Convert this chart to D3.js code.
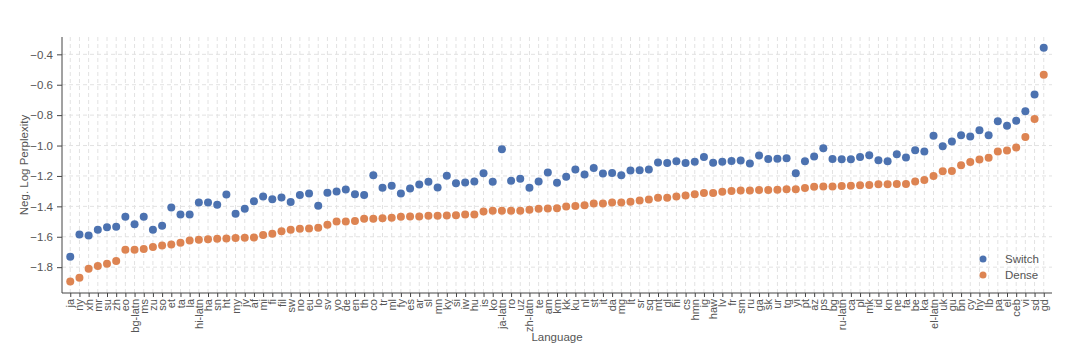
<!DOCTYPE html>
<html lang="en">
<head>
<meta charset="UTF-8">
<script src="https://d3js.org/d3.v7.min.js"></script>
<title>Switch vs Dense</title>
<style>
  body { margin: 0; background: white; }
  svg text { font-family: "Liberation Sans", Arial, Helvetica, sans-serif; fill: #555; }
  .grid line { stroke: #e2e2e2; stroke-dasharray: 4,3; stroke-width: 1; }
  .axis path, .axis line { stroke: #444; }
</style>
</head>
<body>
<svg id="chart"></svg>
<script>
const languages = ["ja","ny","xh","mr","su","zh","eo","bg-latn","ms","zu","so","et","ta","la","hi-latn","ha","sn","ht","my","jv","af","mi","fi","fil","sw","no","eu","lo","sv","yo","de","en","th","co","tr","ml","fy","es","ar","sl","mn","ky","si","iw","hu","is","ko","ja-latn","ro","uz","zh-latn","te","am","km","kk","ku","nl","st","it","da","mg","lt","sr","sq","mt","gl","hi","cs","hmn","ig","haw","lv","fr","sm","ru","ga","sk","ur","tg","yi","pt","az","ps","bg","ru-latn","ca","pl","mk","id","kn","ne","fa","be","ka","el-latn","uk","gu","bn","cy","hy","lb","pa","el","ceb","vi","sd","gd"];

const switchVals = [-1.732,-1.585,-1.591,-1.554,-1.537,-1.535,-1.469,-1.517,-1.469,-1.554,-1.528,-1.407,-1.453,-1.453,-1.375,-1.375,-1.390,-1.322,-1.449,-1.416,-1.366,
  -1.335,-1.353,-1.342,-1.372,-1.326,-1.315,-1.396,-1.311,-1.302,-1.289,-1.320,-1.326,-1.195,-1.278,-1.265,-1.315,-1.283,-1.256,-1.239,-1.276,-1.199,-1.248,
  -1.243,-1.237,-1.182,-1.239,-1.024,-1.232,-1.219,-1.278,-1.237,-1.177,-1.245,-1.206,-1.158,-1.191,-1.147,-1.184,-1.180,-1.195,-1.164,-1.162,-1.158,
  -1.111,-1.115,-1.104,-1.115,-1.107,-1.076,-1.113,-1.107,-1.102,-1.098,-1.118,-1.065,-1.089,-1.087,-1.083,-1.183,-1.104,-1.072,-1.017,-1.089,-1.090,
  -1.090,-1.075,-1.064,-1.097,-1.103,-1.057,-1.079,-1.031,-1.040,-0.936,-1.004,-0.974,-0.932,-0.941,-0.899,-0.932,-0.840,-0.870,-0.837,-0.774,-0.664,-0.356];

const denseVals = [-1.894,-1.870,-1.811,-1.793,-1.778,-1.760,-1.686,-1.686,-1.681,-1.668,-1.657,-1.651,-1.640,-1.624,-1.620,-1.616,-1.613,-1.611,-1.609,-1.607,-1.605,
  -1.589,-1.580,-1.563,-1.554,-1.548,-1.545,-1.541,-1.521,-1.499,-1.499,-1.497,-1.482,-1.482,-1.478,-1.475,-1.469,-1.467,-1.467,-1.462,-1.462,-1.460,-1.458,
  -1.453,-1.453,-1.434,-1.429,-1.429,-1.429,-1.429,-1.423,-1.416,-1.414,-1.412,-1.401,-1.397,-1.392,-1.381,-1.381,-1.375,-1.375,-1.370,-1.361,-1.355,
  -1.343,-1.343,-1.335,-1.328,-1.321,-1.313,-1.313,-1.304,-1.299,-1.295,-1.295,-1.293,-1.293,-1.291,-1.288,-1.288,-1.280,-1.271,-1.269,-1.269,-1.266,
  -1.264,-1.262,-1.259,-1.255,-1.255,-1.253,-1.253,-1.237,-1.226,-1.200,-1.169,-1.167,-1.130,-1.108,-1.092,-1.081,-1.040,-1.033,-1.013,-0.943,-0.826,-0.534];

const yTicks = [-1.8,-1.6,-1.4,-1.2,-1.0,-0.8,-0.6,-0.4];
const seriesNames = ["Switch", "Dense"];
const seriesColors = ["#4c72b0", "#dd8452"];

const w = 1080, h = 362;
const plotLeft = 62, plotRight = 1052, plotTop = 37, plotBottom = 293;

const svg = d3.select("#chart").attr("width", w).attr("height", h);

const x = d3.scalePoint().domain(languages).range([plotLeft, plotRight]).padding(0.9);
const y = d3.scaleLinear().domain([-1.97, -0.286]).range([plotBottom, plotTop]);

// grid
const grid = svg.append("g").attr("class", "grid");
grid.selectAll(".gv").data(languages).enter().append("line")
   .attr("x1", d => x(d)).attr("x2", d => x(d))
   .attr("y1", plotTop).attr("y2", plotBottom);
grid.selectAll(".gh").data(yTicks).enter().append("line")
   .attr("x1", plotLeft).attr("x2", plotRight)
   .attr("y1", d => y(d)).attr("y2", d => y(d));

// axes
const xAxis = svg.append("g")
   .attr("class", "axis")
   .attr("transform", "translate(0," + plotBottom + ")")
   .call(d3.axisBottom(x).tickSize(4).tickSizeOuter(0));
xAxis.select(".domain").attr("d", "M" + plotLeft + ",0H" + plotRight);
xAxis.selectAll("text")
   .attr("transform", "rotate(-90)")
   .attr("x", -6).attr("y", 0).attr("dy", "0.32em")
   .style("text-anchor", "end")
   .style("font-size", "11px");

const yAxis = svg.append("g")
   .attr("class", "axis")
   .attr("transform", "translate(" + plotLeft + ",0)")
   .call(d3.axisLeft(y).tickValues(yTicks).tickFormat(d3.format(".1f")).tickSize(5).tickPadding(4).tickSizeOuter(0));
yAxis.select(".domain").attr("d", "M0," + plotTop + "V" + plotBottom);
yAxis.selectAll("text").style("font-size", "11.5px");
svg.selectAll(".axis text").attr("fill", "#555");

svg.append("text")
   .attr("transform", "rotate(-90)")
   .attr("x", -(plotTop + plotBottom) / 2)
   .attr("y", 28)
   .style("text-anchor", "middle")
   .style("font-size", "11.5px")
   .text("Neg. Log Perplexity");

svg.append("text")
   .attr("x", (plotLeft + plotRight) / 2)
   .attr("y", 341)
   .style("text-anchor", "middle")
   .style("font-size", "11.5px")
   .text("Language");

// points
const series = [switchVals, denseVals];
series.forEach((vals, s) => {
  svg.append("g").selectAll("circle")
     .data(vals)
     .enter()
     .append("circle")
     .attr("cx", (d, i) => x(languages[i]))
     .attr("cy", d => y(d))
     .attr("r", 4)
     .attr("fill", seriesColors[s]);
});

// legend
const legend = svg.append("g");
seriesNames.forEach((name, i) => {
  legend.append("circle")
     .attr("cx", 983).attr("cy", 259 + i * 16)
     .attr("r", 3.5).attr("fill", seriesColors[i]);
  legend.append("text")
     .attr("x", 1005).attr("y", 259 + i * 16)
     .attr("dy", "0.35em")
     .style("font-size", "11.5px")
     .text(name);
});
</script>
</body>
</html>
